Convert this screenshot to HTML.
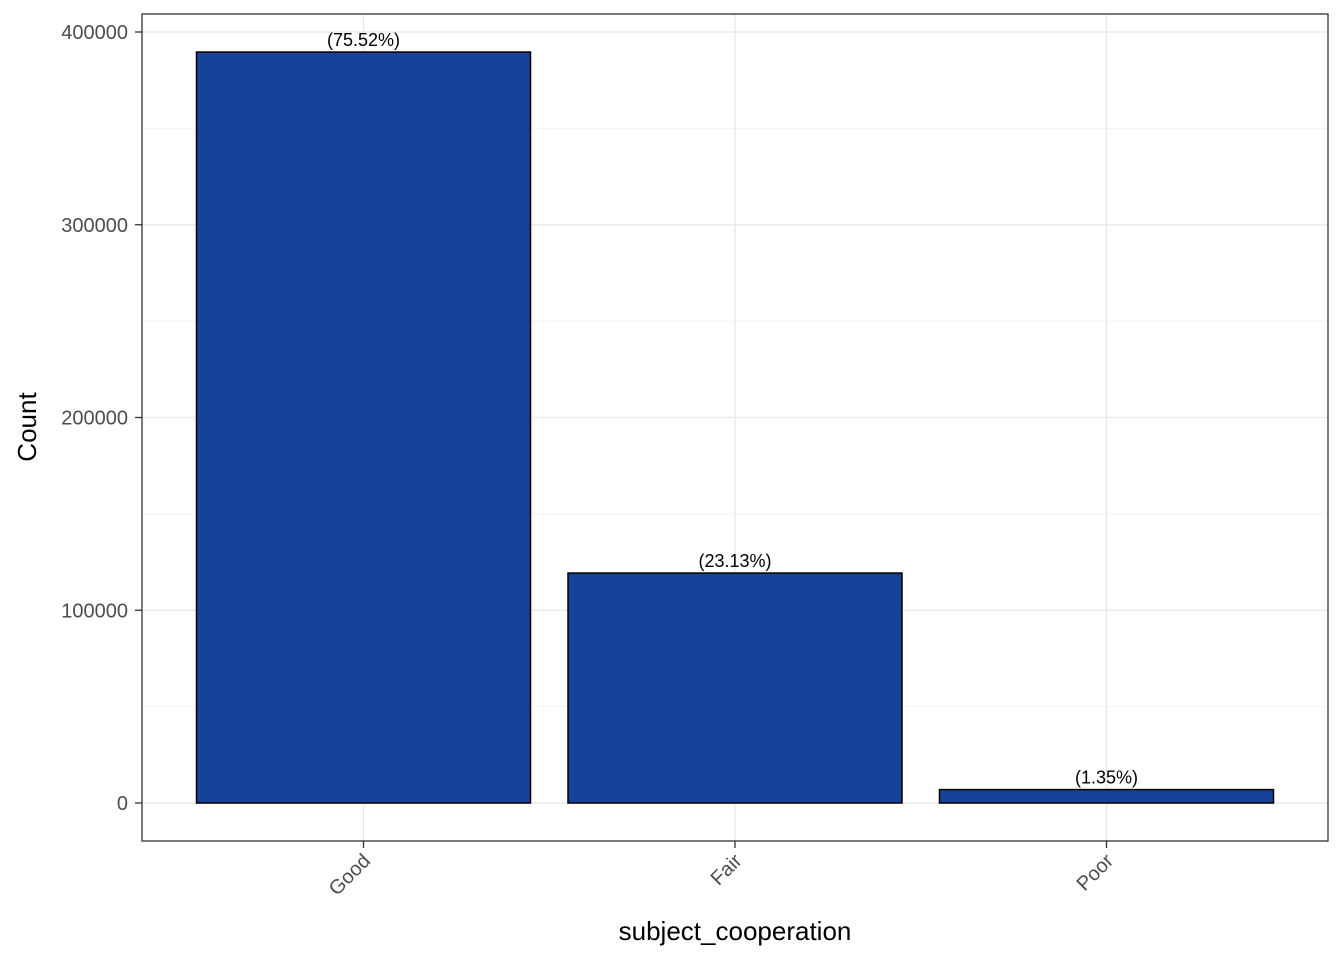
<!DOCTYPE html>
<html><head><meta charset="utf-8"><style>
html,body{margin:0;padding:0;background:#fff;}
svg{display:block;font-family:"Liberation Sans",Arial,sans-serif;}
</style></head><body>
<svg id="chart" width="1344" height="960">
<rect x="0" y="0" width="1344" height="960" fill="#fff"/>
<g id="grid"></g>
<g id="bars"></g>
<rect x="142" y="14" width="1186" height="827" fill="none" stroke="#333" stroke-width="1.3"/>
<g id="axes"></g>
<text x="735" y="940" text-anchor="middle" font-size="26" fill="#000">subject_cooperation</text>
<text transform="translate(36,427) rotate(-90)" text-anchor="middle" font-size="26" fill="#000">Count</text>
</svg>
<script>
const categories = ["Good", "Fair", "Poor"];
const counts = [389600, 119300, 6960];
const pctLabels = ["(75.52%)", "(23.13%)", "(1.35%)"];
const yTicks = [0, 100000, 200000, 300000, 400000];

const NS = "http://www.w3.org/2000/svg";
const y0 = 803, pxPer = (803 - 32) / 400000;
const yScale = v => y0 - v * pxPer;
const step = 371.5, x0 = 363.5, bw = 334;
const xScale = i => x0 + i * step;
function mk(tag, attrs, parent) {
  const e = document.createElementNS(NS, tag);
  for (const k in attrs) e.setAttribute(k, attrs[k]);
  parent.appendChild(e);
  return e;
}
const grid = document.getElementById('grid'), bars = document.getElementById('bars'), axes = document.getElementById('axes');
// minor grid
for (let i = 0; i < yTicks.length - 1; i++) {
  const y = yScale((yTicks[i] + yTicks[i + 1]) / 2);
  const l = mk('line', {x1: 142, x2: 1328, y1: y, y2: y, stroke: '#f2f2f2', 'stroke-width': 1}, grid);
  
  
}
yTicks.forEach(t => {
  const y = yScale(t);
  const l = mk('line', {x1: 142, x2: 1328, y1: y, y2: y, stroke: '#ebebeb', 'stroke-width': 1.5}, grid);
  
  
  const tk = mk('line', {x1: 135, x2: 142, y1: y, y2: y, stroke: '#333', 'stroke-width': 1.3}, axes);
  
  
  const tx = mk('text', {x: 128, y: y + 7, 'text-anchor': 'end', 'font-size': 20, fill: '#4d4d4d'}, axes);
  tx.textContent = String(t);
  
  
});
categories.forEach((c, i) => {
  const x = xScale(i);
  const g = mk('line', {x1: x, x2: x, y1: 14, y2: 841, stroke: '#ebebeb', 'stroke-width': 1.5}, grid);
  
  
  const top = yScale(counts[i]);
  const r = mk('rect', {x: x - bw / 2, y: top, width: bw, height: y0 - top, fill: '#174299', stroke: '#000', 'stroke-width': 1.5}, bars);
  
  
  const lb = mk('text', {x: x, y: top - 6, 'text-anchor': 'middle', 'font-size': 18, fill: '#000'}, bars);
  lb.textContent = pctLabels[i];
  
  
  const tk = mk('line', {x1: x, x2: x, y1: 841, y2: 848, stroke: '#333', 'stroke-width': 1.3}, axes);
  
  
  const tx = mk('text', {transform: 'translate(' + (x + 8) + ',862) rotate(-45)', 'text-anchor': 'end', 'font-size': 20, fill: '#4d4d4d'}, axes);
  tx.textContent = c;
  
  
});
</script>
</body></html>
